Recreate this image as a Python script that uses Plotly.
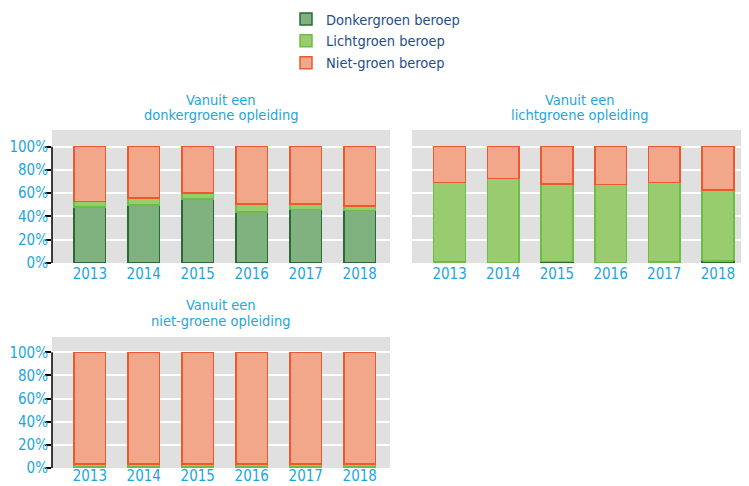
import plotly.graph_objects as go

years = ["2013", "2014", "2015", "2016", "2017", "2018"]
series_names = ["Donkergroen beroep", "Lichtgroen beroep", "Niet-groen beroep"]

# Vanuit een donkergroene opleiding (%)
dg_donker = [48, 50, 55, 44, 46, 45]
dg_licht = [5, 6, 5, 6.5, 4.5, 4]
dg_niet = [47, 44, 40, 49.5, 49.5, 51]

# Vanuit een lichtgroene opleiding (%)
lg_donker = [1, 0.5, 1.4, 0.5, 1, 2.3]
lg_licht = [68, 72, 66.6, 67, 68.4, 60.3]
lg_niet = [31, 27.5, 32, 32.5, 30.6, 37.4]

# Vanuit een niet-groene opleiding (%)
ng_donker = [1, 1, 1, 1, 1, 1]
ng_licht = [2.5, 2.5, 2.5, 2.5, 2.5, 2.5]
ng_niet = [96.5, 96.5, 96.5, 96.5, 96.5, 96.5]

title_line1 = ["Vanuit een", "Vanuit een", "Vanuit een"]
title_line2 = ["donkergroene opleiding", "lichtgroene opleiding", "niet-groene opleiding"]
y_tickvals = [0, 20, 40, 60, 80, 100]
y_ticktext = ["0%", "20%", "40%", "60%", "80%", "100%"]

fills = ["#7fb27f", "#98cc6e", "#f3a78a"]
lines = ["#2b6a37", "#6cbd45", "#ea5a2e"]
FONT = "Liberation Sans Narrow, DejaVu Sans Condensed, Arial Narrow, sans-serif"
TICKC = "#1ea5dd"

# the page body adds an 8px margin; positions below are reference pixels minus 8
OFF = 8
W, H = 741, 478
fig = go.Figure()

panels = [
    (dict(donker=dg_donker, licht=dg_licht, niet=dg_niet), "x", "y"),
    (dict(donker=lg_donker, licht=lg_licht, niet=lg_niet), "x2", "y2"),
    (dict(donker=ng_donker, licht=ng_licht, niet=ng_niet), "x3", "y3"),
]
for pi, (d, xa, ya) in enumerate(panels):
    for si, key in enumerate(["donker", "licht", "niet"]):
        fig.add_trace(go.Bar(
            x=years, y=d[key], name=series_names[si],
            marker=dict(color=fills[si], line=dict(color=lines[si], width=1.5)),
            width=0.59, xaxis=xa, yaxis=ya,
            showlegend=(pi == 0), legendgroup=series_names[si],
            hoverinfo="skip",
        ))

def px_x(a, b):
    return [(a - OFF) / W, (b - OFF) / W]

def px_y(top, bottom):
    return [1 - (bottom - OFF) / H, 1 - (top - OFF) / H]

def py(v):
    return 1 - (v - OFF) / H

xdoms = [px_x(52, 390), px_x(412, 748), px_x(52, 390)]
ydoms = [px_y(130, 263), px_y(130, 263), px_y(337, 468)]
yranges = [[0, 114.3], [0, 114.3], [0, 113.2]]
title_y = [(100, 115), (100, 115), (305, 321)]
x_standoff = [0, 0, -3]

layout = dict(
    width=W, height=H, barmode="stack",
    margin=dict(l=0, r=0, t=0, b=0, autoexpand=False),
    paper_bgcolor="white", plot_bgcolor="#e0e0e0",
    font=dict(family=FONT, size=15, color=TICKC),
    legend=dict(x=(286 - OFF) / W, y=py(3), xanchor="left", yanchor="top",
                font=dict(family=FONT, size=14.5, color="#1e4e8c"),
                tracegroupgap=0, bgcolor="rgba(0,0,0,0)"),
)
for i in range(3):
    sx = "" if i == 0 else str(i + 1)
    layout["xaxis" + sx] = dict(
        domain=xdoms[i], anchor="y" + sx, type="category", automargin=False,
        range=[-0.7, 5.56], showgrid=False, zeroline=False,
        ticks="", tickfont=dict(family=FONT, size=15, color=TICKC),
        showline=False, ticklabelstandoff=x_standoff[i],
    )
    layout["yaxis" + sx] = dict(
        domain=ydoms[i], anchor="x" + sx, range=yranges[i], automargin=False,
        tickvals=y_tickvals, ticktext=y_ticktext,
        showticklabels=(i != 1),
        ticks="outside" if i != 1 else "", ticklen=6, tickcolor="black", tickwidth=1.5,
        gridcolor="white", gridwidth=1.5, zeroline=False, showline=False,
        tickfont=dict(family=FONT, size=15, color=TICKC),
        ticklabelstandoff=-6,
    )
fig.update_layout(**layout)

# black y-axis line from 0% to 100% for panels with labels
for i in [0, 2]:
    sx = "" if i == 0 else str(i + 1)
    fig.add_shape(type="line", xref=("x" + sx + " domain"), yref=("y" + sx),
                  x0=0, x1=0, y0=0, y1=100, line=dict(color="black", width=1.5))

# panel titles (two lines each)
for i in range(3):
    for txt, yy in ((title_line1[i], title_y[i][0]), (title_line2[i], title_y[i][1])):
        fig.add_annotation(
            text=txt, x=sum(xdoms[i]) / 2, y=py(yy),
            xref="paper", yref="paper", xanchor="center", yanchor="middle",
            showarrow=False, font=dict(family=FONT, size=14.5, color=TICKC),
        )

fig.write_html("out.html")
